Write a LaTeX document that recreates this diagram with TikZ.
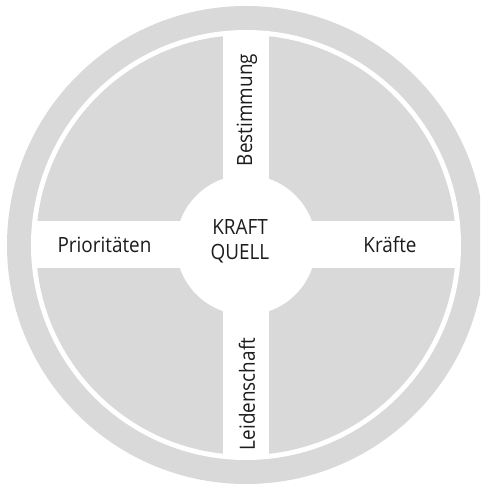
\documentclass[tikz,border=0pt]{standalone}
\usepackage{fontspec}
\setmainfont{Open Sans}[FakeStretch=0.9]
\definecolor{ringgray}{RGB}{217,217,217}
\definecolor{txt}{RGB}{28,28,28}
\begin{document}
\begin{tikzpicture}[x=1pt,y=1pt,
  lbl/.style={text=txt,font=\fontsize{21}{24.5}\selectfont,inner sep=0pt,align=center}]
\useasboundingbox (0,0) rectangle (480,484);
\clip (0,0) rectangle (480,484);
\fill[white] (0,0) rectangle (480,484);
\coordinate (c) at (246,239);
\fill[ringgray] (c) circle (239);
\fill[white] (c) circle (215);
\fill[ringgray] (c) circle (210);
\begin{scope}
  \clip (c) circle (210.5);
  \fill[white] (223,0) rectangle (269,484);
  \fill[white] (0,216) rectangle (480,263);
\end{scope}
\fill[white] (c) circle (70);
\node[lbl] (kq) at (240,242.5) {KRAFT\\QUELL};
\node[lbl,rotate=90] (be) at (247,374) {Bestimmung};
\node[lbl,rotate=90] (le) at (247,90) {Leidenschaft};
\node[lbl] (pr) at (104.5,239) {Prioritäten};
\node[lbl] (kr) at (390,239) {Kräfte};
\end{tikzpicture}
\end{document}
